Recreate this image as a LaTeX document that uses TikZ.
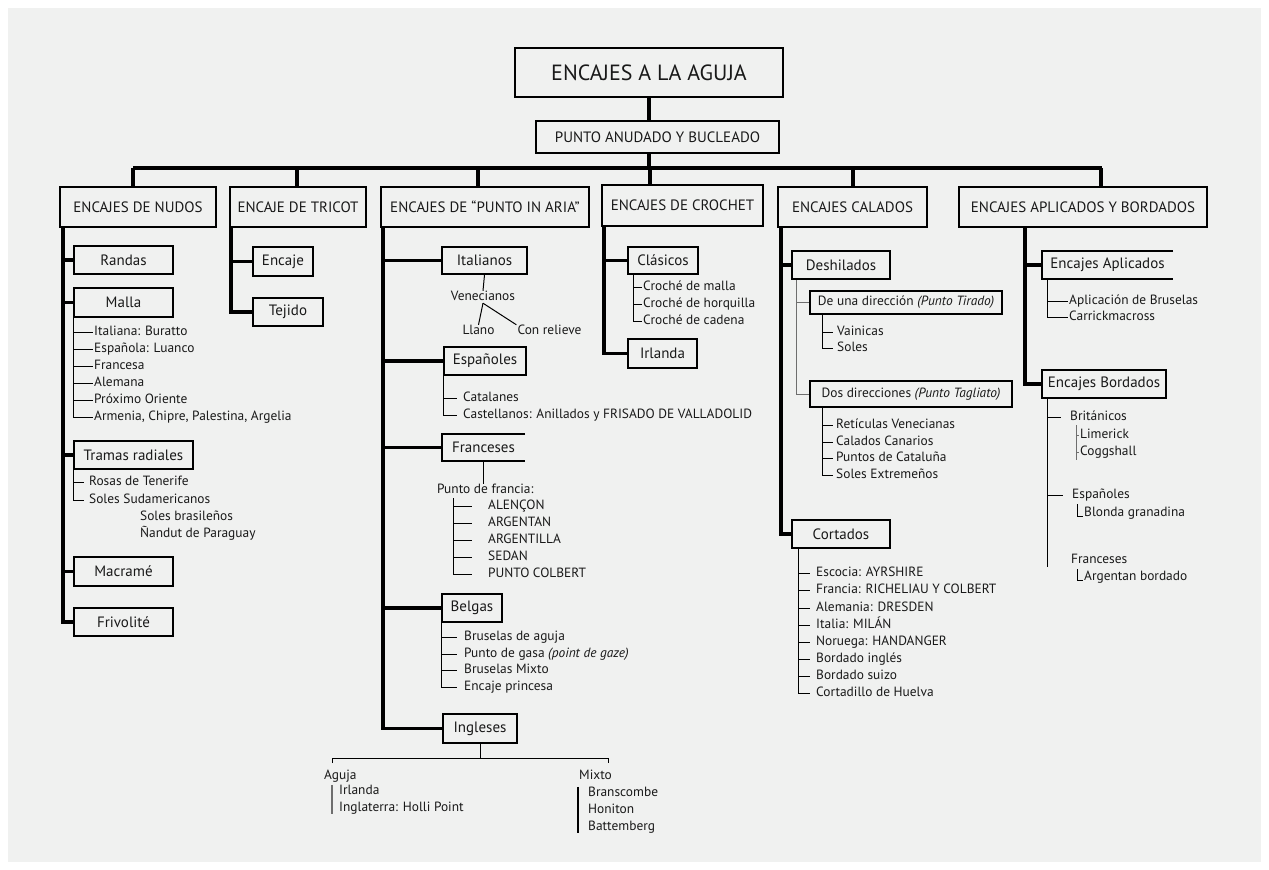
\documentclass[tikz,border=0pt]{standalone}
\usepackage{fontspec}
\setmainfont{PT Sans}
\usepackage{tikz}
\pgfdeclarelayer{bg}
\pgfsetlayers{bg,main}
\definecolor{papel}{RGB}{240,241,240}
\definecolor{tinta}{RGB}{25,25,25}
\definecolor{gris}{RGB}{110,110,110}
\newcommand{\fsz}[1]{\fontsize{#1}{#1}\selectfont}
\tikzset{
  caja/.style={draw=black, line width=1.6pt, fill=papel, text=tinta, inner sep=0pt, minimum width=#1pt},
  tipo/.style={caja=#1, minimum height=40pt, font=\fsz{15}},
  sub/.style={caja=#1, minimum height=28pt, font=\fsz{15}},
  abierta/.style={fill=papel, text=tinta, inner sep=0pt, minimum width=#1pt, minimum height=28pt, font=\fsz{15}},
  hoja/.style={anchor=west, text=tinta, inner xsep=1pt, inner ysep=0pt, font=\fsz{13.4}, text height=9pt, text depth=3pt},
  tronco/.style={line width=3.5pt},
  rama/.style={line width=1pt},
}

\begin{document}
\begin{tikzpicture}[x=1pt, y=-1pt]
        \useasboundingbox (0,0) rectangle (1269,870);
        \begin{pgfonlayer}{bg}
                \fill[white] (0,0) rectangle (1269,870);
                \fill[papel] (8,8) rectangle (1261,862);
        \end{pgfonlayer}

        % cabecera
        \node (raiz) [caja=268, minimum height=49pt, font=\fsz{22}] at (649,72.5) {ENCAJES A LA AGUJA};
        \node (anudado) [caja=243, minimum height=32pt, font=\fsz{15}] at (657.5,137) {PUNTO ANUDADO Y BUCLEADO};

        % familias
        \node (nudos) [tipo=156] at (138,207) {ENCAJES DE NUDOS};
        \node (tricot) [tipo=136] at (298,207) {ENCAJE DE TRICOT};
        \node (aria) [tipo=208] at (485,207) {ENCAJES DE “PUNTO IN ARIA”};
        \node (crochet) [tipo=161, minimum height=41pt] at (682.5,205.5) {ENCAJES DE CROCHET};
        \node (calados) [tipo=149] at (852.5,207) {ENCAJES CALADOS};
        \node (aplic) [tipo=248] at (1083,207) {ENCAJES APLICADOS Y BORDADOS};

        % nudos
        \node (randas) [sub=99] at (123.5,260) {Randas};
        \node (malla) [sub=99, minimum height=29pt] at (123.5,302.5) {Malla};
        \node (m1) [hoja] at (93,332) {Italiana: Buratto};
        \node (m2) [hoja] at (93,349) {Española: Luanco};
        \node (m3) [hoja] at (93,366) {Francesa};
        \node (m4) [hoja] at (93,383) {Alemana};
        \node (m5) [hoja] at (93,400) {Próximo Oriente};
        \node (m6) [hoja] at (93,417) {Armenia, Chipre, Palestina, Argelia};
        \node (tramas) [sub=119] at (133.5,455) {Tramas radiales};
        \node (t1) [hoja] at (88,482) {Rosas de Tenerife};
        \node (t2) [hoja] at (88,500) {Soles Sudamericanos};
        \node (t3) [hoja] at (139,517) {Soles brasileños};
        \node (t4) [hoja] at (139,534) {Ñandut de Paraguay};
        \node (macrame) [sub=99, minimum height=29pt] at (123.5,571.5) {Macramé};
        \node (frivolite) [sub=99] at (123.5,622) {Frivolité};

        % tricot
        \node (encaje) [sub=60, minimum height=29pt] at (283,261.5) {Encaje};
        \node (tejido) [sub=70] at (288,312) {Tejido};

        % punto in aria
        \node (italianos) [sub=85, minimum height=27pt] at (484.5,260.5) {Italianos};
        \node (venecianos) [hoja, anchor=center] at (483,297) {Venecianos};
        \node (llano) [hoja, anchor=center] at (478.5,331) {Llano};
        \node (relieve) [hoja, anchor=center] at (549.5,331) {Con relieve};
        \node (espanoles) [sub=82] at (485,361) {Españoles};
        \node (catalanes) [hoja] at (462,398) {Catalanes};
        \node (castellanos) [hoja] at (462,415) {Castellanos: Anillados y FRISADO DE VALLADOLID};
        \node (franceses) [abierta=83, minimum height=27pt] at (483.5,447.5) {Franceses};
        \node (pfrancia) [hoja] at (436,490) {Punto de francia:};
        \node (f1) [hoja] at (487,506) {ALENÇON};
        \node (f2) [hoja] at (487,523) {ARGENTAN};
        \node (f3) [hoja] at (487,540) {ARGENTILLA};
        \node (f4) [hoja] at (487,557) {SEDAN};
        \node (f5) [hoja] at (487,574) {PUNTO COLBERT};
        \node (belgas) [sub=60] at (472,608) {Belgas};
        \node (b1) [hoja] at (463,637) {Bruselas de aguja};
        \node (b2) [hoja] at (463,654) {Punto de gasa \textit{(point de gaze)}};
        \node (b3) [hoja] at (463,670) {Bruselas Mixto};
        \node (b4) [hoja] at (463,687) {Encaje princesa};
        \node (ingleses) [sub=74, minimum height=29pt] at (480,728.5) {Ingleses};
        \node (aguja) [hoja] at (323,776) {Aguja};
        \node (irl) [hoja] at (338,791) {Irlanda};
        \node (holli) [hoja] at (338,808) {Inglaterra: Holli Point};
        \node (mixto) [hoja] at (578,776) {Mixto};
        \node (bran) [hoja] at (587,793) {Branscombe};
        \node (honi) [hoja] at (587,810) {Honiton};
        \node (batt) [hoja] at (587,827) {Battemberg};

        % crochet
        \node (clasicos) [sub=70, minimum height=27pt] at (663,260.5) {Clásicos};
        \node (c1) [hoja] at (642,287) {Croché de malla};
        \node (c2) [hoja] at (642,304) {Croché de horquilla};
        \node (c3) [hoja] at (642,321) {Croché de cadena};
        \node (irlanda) [sub=69, minimum height=29pt] at (662.5,353.5) {Irlanda};

        % calados
        \node (deshilados) [sub=98] at (841,265) {Deshilados};
        \node (unadir) [caja=192, minimum height=23pt, font=\fsz{13.4}] at (906,302.5) {De una dirección \textit{(Punto Tirado)}};
        \node (vainicas) [hoja] at (836,332) {Vainicas};
        \node (soles) [hoja] at (836,348) {Soles};
        \node (dosdir) [caja=202, minimum height=26pt, font=\fsz{13.4}] at (911,394) {Dos direcciones \textit{(Punto Tagliato)}};
        \node (d1) [hoja] at (835,425) {Retículas Venecianas};
        \node (d2) [hoja] at (835,442) {Calados Canarios};
        \node (d3) [hoja] at (835,458) {Puntos de Cataluña};
        \node (d4) [hoja] at (835,475) {Soles Extremeños};
        \node (cortados) [sub=98] at (841,534) {Cortados};
        \node (k1) [hoja] at (815,573) {Escocia: AYRSHIRE};
        \node (k2) [hoja] at (815,590) {Francia: RICHELIAU Y COLBERT};
        \node (k3) [hoja] at (815,608) {Alemania: DRESDEN};
        \node (k4) [hoja] at (815,625) {Italia: MILÁN};
        \node (k5) [hoja] at (815,642) {Noruega: HANDANGER};
        \node (k6) [hoja] at (815,659) {Bordado inglés};
        \node (k7) [hoja] at (815,676) {Bordado suizo};
        \node (k8) [hoja] at (815,693) {Cortadillo de Huelva};

        % aplicados y bordados
        \node (aplicados) [abierta=131] at (1107.5,265) {Encajes Aplicados};
        \node (a1) [hoja] at (1068,301) {Aplicación de Bruselas};
        \node (a2) [hoja] at (1068,317) {Carrickmacross};
        \node (bordados) [sub=124] at (1104,384) {Encajes Bordados};
        \node (brit) [hoja] at (1069,417) {Británicos};
        \node (lim) [hoja] at (1079,435) {Limerick};
        \node (cog) [hoja] at (1079,452) {Coggshall};
        \node (espb) [hoja] at (1071,495) {Españoles};
        \node (blonda) [hoja] at (1083,513) {Blonda granadina};
        \node (frab) [hoja] at (1070,560) {Franceses};
        \node (argb) [hoja] at (1083,577) {Argentan bordado};

        \draw[line width=1.6pt] (franceses.north east) -| (franceses.south west) -- (franceses.south east);
        \draw[line width=1.6pt] (aplicados.north east) -| (aplicados.south west) -- (aplicados.south east);

        \coordinate (barraL) at (133,168);
        \coordinate (barraR) at (1102,168);
        \coordinate (tnudos) at (63,227);
        \coordinate (ttricot) at (231,227);
        \coordinate (taria) at (383,227);
        \coordinate (tcrochet) at (604,226);
        \coordinate (tcalados) at (781,227);
        \coordinate (taplic) at (1025,227);
        \coordinate (pf) at (453,498);
        \coordinate (ingL) at (332,758);
        \coordinate (ingR) at (608,758);
        \coordinate (cv) at (633,274);
        \coordinate (dv) at (796,279);
        \coordinate (uv) at (822,314);
        \coordinate (dv2) at (822,407);
        \coordinate (kv) at (798,548);
        \coordinate (av) at (1047,279);
        \coordinate (bv) at (1047,398);
        \coordinate (bvfin) at (1047,567);
        \coordinate (brv) at (1076,425);
        \coordinate (brvfin) at (1076,460);
        \coordinate (blv) at (1077,504);
        \coordinate (agv) at (1077,569);

        \begin{pgfonlayer}{bg}
                \draw[tronco] (raiz.south) -- (raiz.south |- anudado.north);
                \draw[tronco] (anudado.south -| raiz.south) -- (raiz.south |- barraL);
                \draw[tronco] (barraL) -- (barraR);
                \foreach \n/\x in {nudos/133, tricot/297, aria/478, crochet/650, calados/853, aplic/1101} {
                        \coordinate (b\n) at (\x,168);
                        \draw[tronco] (b\n) -- (b\n |- \n.north);
                }
                \foreach \h in {randas, malla, tramas, macrame, frivolite}
                        \draw[tronco] (tnudos) |- (\h.west);
                \foreach \h in {m1, m2, m3, m4, m5, m6}
                        \draw[rama] (malla.south west) |- (\h.west);
                \foreach \h in {t1, t2}
                        \draw[rama, shorten >=4pt] (tramas.south west) |- (\h.west);

                \foreach \h in {encaje, tejido}
                        \draw[tronco] (ttricot) |- (\h.west);

                \foreach \h in {italianos, espanoles, franceses, belgas, ingleses}
                        \draw[tronco] (taria) |- (\h.west);
                \draw[rama] (italianos.south) -- (venecianos.north);
                \draw[rama] (venecianos.south) -- (llano.north);
                \draw[rama] (venecianos.south) -- (relieve.north west);
                \foreach \h in {catalanes, castellanos}
                        \draw[rama, shorten >=5pt] (espanoles.south west) |- (\h.west);
                \draw[rama] (franceses.south) -- (franceses.south |- pfrancia.north);
                \foreach \h in {f1, f2, f3, f4, f5}
                        \draw[rama, shorten >=15pt] (pf) |- (\h.west);
                \foreach \h in {b1, b2, b3, b4}
                        \draw[rama, shorten >=6pt] (belgas.south west) |- (\h.west);
                \draw[rama] (ingleses.south) -- (ingleses.south |- ingL);
                \draw[rama] (ingL) ++(0,5) -- (ingL) -- (ingR) -- ++(0,5);
                \draw[line width=2pt, gris] (ingL |- irl.north) -- (ingL |- holli.south);
                \draw[line width=1.5pt] (mixto.west |- bran.north) -- (mixto.west |- batt.south);

                \foreach \h in {clasicos, irlanda}
                        \draw[tronco] (tcrochet) |- (\h.west);
                \foreach \h in {c1, c2, c3}
                        \draw[rama] (cv) |- (\h.west);

                \foreach \h in {deshilados, cortados}
                        \draw[tronco] (tcalados) |- (\h.west);
                \foreach \h in {unadir, dosdir}
                        \draw[rama, gris] (dv) |- (\h.west);
                \foreach \h in {vainicas, soles}
                        \draw[rama, shorten >=3pt] (uv) |- (\h.west);
                \foreach \h in {d1, d2, d3, d4}
                        \draw[rama, shorten >=2pt] (dv2) |- (\h.west);
                \foreach \h in {k1, k2, k3, k4, k5, k6, k7, k8}
                        \draw[rama, shorten >=5pt] (kv) |- (\h.west);

                \foreach \h in {aplicados, bordados}
                        \draw[tronco] (taplic) |- (\h.west);
                \foreach \h in {a1, a2}
                        \draw[rama] (av) |- (\h.west);
                \draw[rama] (bv) -- (bvfin);
                \foreach \h in {brit, espb}
                        \draw[rama, shorten >=8pt] (bv) |- (\h.west);
                \draw[rama, gris] (brv) -- (brvfin);
                \foreach \h in {lim, cog}
                        \draw[rama, gris] (brv) |- (\h.west);
                \draw[rama] (blv) |- (blonda.base west);
                \draw[rama] (agv) |- (argb.base west);
        \end{pgfonlayer}
\end{tikzpicture}
\end{document}
